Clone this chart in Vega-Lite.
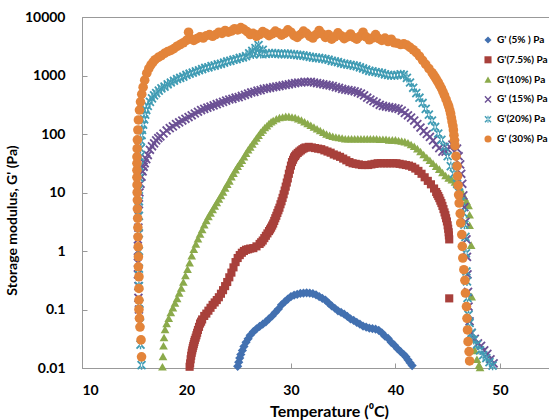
{
  "$schema": "https://vega.github.io/schema/vega-lite/v6.json",
  "width": 467,
  "height": 351,
  "autosize": {"type": "none"},
  "padding": {"left": 82, "top": 17, "right": 0, "bottom": 52},
  "background": "white",
  "config": {
    "font": "Lato",
    "view": {"stroke": "#999999", "strokeWidth": 1},
    "axis": {"grid": false, "domainColor": "#999999", "tickColor": "#999999", "labelColor": "#000000", "titleColor": "#000000", "labelFont": "Lato", "labelFontWeight": "bold", "labelFontSize": 14, "titleFont": "Lato", "titleFontWeight": "bold"}
  },
  "encoding": {
    "x": {"field": "t", "type": "quantitative", "scale": {"domain": [10, 54.7], "nice": false, "zero": false},
      "axis": {"values": [10, 20, 30, 40, 50], "tickSize": -5, "labelPadding": 20, "title": "Temperature (⁰C)", "titleFontSize": 16, "titleX": 247, "titleY": 48, "titleBaseline": "alphabetic"}},
    "y": {"field": "g", "type": "quantitative", "scale": {"type": "log", "domain": [0.01, 10000], "nice": false},
      "axis": {"values": [0.01, 0.1, 1, 10, 100, 1000, 10000], "format": "~g", "tickSize": -5, "labelPadding": 22, "title": "Storage modulus, G' (Pa)", "titleFontSize": 14, "titleX": -66, "titleY": 203, "titleBaseline": "alphabetic"}}
  },
  "layer": [
    {
      "data": {"values": [
        {"t":24.9,"g":0.0107},{"t":25.0,"g":0.0126},{"t":25.1,"g":0.0148},{"t":25.2,"g":0.017},{"t":25.35,"g":0.02},{"t":25.5,"g":0.0234},{"t":25.7,"g":0.0275},{"t":25.9,"g":0.0316},{"t":26.1,"g":0.0363},{"t":26.4,"g":0.0417},{"t":26.7,"g":0.0468},{"t":27.0,"g":0.0513},{"t":27.3,"g":0.0562},{"t":27.6,"g":0.0617},{"t":27.9,"g":0.0692},{"t":28.2,"g":0.0776},{"t":28.5,"g":0.0891},{"t":28.8,"g":0.102},{"t":29.1,"g":0.12},{"t":29.4,"g":0.135},{"t":29.7,"g":0.151},{"t":30.0,"g":0.166},{"t":30.3,"g":0.176},{"t":30.6,"g":0.182},{"t":30.9,"g":0.188},{"t":31.2,"g":0.19},{"t":31.5,"g":0.193},{"t":31.8,"g":0.19},{"t":32.1,"g":0.186},{"t":32.4,"g":0.178},{"t":32.7,"g":0.166},{"t":33.0,"g":0.155},{"t":33.3,"g":0.145},{"t":33.6,"g":0.129},{"t":33.9,"g":0.115},{"t":34.2,"g":0.105},{"t":34.5,"g":0.095},{"t":34.8,"g":0.089},{"t":35.1,"g":0.083},{"t":35.4,"g":0.076},{"t":35.7,"g":0.069},{"t":36.0,"g":0.065},{"t":36.3,"g":0.06},{"t":36.6,"g":0.056},{"t":36.9,"g":0.052},{"t":37.2,"g":0.05},{"t":37.5,"g":0.048},{"t":37.8,"g":0.047},{"t":38.1,"g":0.046},{"t":38.4,"g":0.044},{"t":38.7,"g":0.04},{"t":39.0,"g":0.035},{"t":39.3,"g":0.032},{"t":39.6,"g":0.0275},{"t":39.9,"g":0.0245},{"t":40.2,"g":0.0214},{"t":40.5,"g":0.019},{"t":40.8,"g":0.017},{"t":41.0,"g":0.0155},{"t":41.2,"g":0.0138},{"t":41.4,"g":0.0123},{"t":41.6,"g":0.011}
      ]},
      "mark": {"type": "point", "filled": true, "size": 85, "opacity": 1},
      "encoding": {
        "color": {"datum": "G' (5% ) Pa", "type": "nominal",
          "scale": {"domain": ["G' (5% ) Pa", "G'(7.5%) Pa", "G'(10%) Pa", "G' (15%) Pa", "G'(20%) Pa", "G' (30%) Pa"], "range": ["#4270B0", "#A8403B", "#8BAA4B", "#6B5094", "#409CB4", "#E3843A"]},
          "legend": {"title": null, "orient": "none", "legendX": 401, "legendY": 18, "padding": 0, "symbolSize": 50, "symbolType": "circle", "labelFont": "Lato", "labelFontWeight": "bold", "labelFontSize": 10, "labelColor": "#000000", "labelOffset": 4, "rowPadding": 9.8, "symbolOpacity": 1}},
        "shape": {"datum": "G' (5% ) Pa", "type": "nominal",
          "scale": {"domain": ["G' (5% ) Pa", "G'(7.5%) Pa", "G'(10%) Pa", "G' (15%) Pa", "G'(20%) Pa", "G' (30%) Pa"], "range": ["diamond", "square", "triangle-up", "M-1,-0.72L-0.72,-1L0,-0.28L0.72,-1L1,-0.72L0.28,0L1,0.72L0.72,1L0,0.28L-0.72,1L-1,0.72L-0.28,0Z", "M-1,-0.72L-0.72,-1L0,-0.28L0.72,-1L1,-0.72L0.28,0L1,0.72L0.72,1L0,0.28L-0.72,1L-1,0.72L-0.28,0ZM-0.15,-1L-0.15,1L0.15,1L0.15,-1Z", "circle"]},
          "legend": null}
      }
    },
    {
      "data": {"values": [
        {"t":20.3,"g":0.0105},{"t":20.35,"g":0.012},{"t":20.4,"g":0.0141},{"t":20.45,"g":0.0162},{"t":20.5,"g":0.0182},{"t":20.55,"g":0.02},{"t":20.6,"g":0.0219},{"t":20.65,"g":0.0238},{"t":20.7,"g":0.0257},{"t":20.75,"g":0.0279},{"t":20.8,"g":0.0302},{"t":20.88,"g":0.033},{"t":20.95,"g":0.0363},{"t":21.02,"g":0.04},{"t":21.1,"g":0.0447},{"t":21.2,"g":0.0505},{"t":21.3,"g":0.0575},{"t":21.4,"g":0.062},{"t":21.5,"g":0.0676},{"t":21.7,"g":0.0776},{"t":21.9,"g":0.0851},{"t":22.1,"g":0.0955},{"t":22.3,"g":0.107},{"t":22.5,"g":0.12},{"t":22.7,"g":0.132},{"t":22.9,"g":0.145},{"t":23.1,"g":0.162},{"t":23.3,"g":0.186},{"t":23.5,"g":0.214},{"t":23.7,"g":0.251},{"t":23.9,"g":0.295},{"t":24.1,"g":0.355},{"t":24.3,"g":0.427},{"t":24.5,"g":0.525},{"t":24.7,"g":0.646},{"t":24.9,"g":0.759},{"t":25.1,"g":0.851},{"t":25.3,"g":0.933},{"t":25.5,"g":1.0},{"t":25.7,"g":1.05},{"t":25.9,"g":1.07},{"t":26.1,"g":1.1},{"t":26.4,"g":1.12},{"t":26.7,"g":1.2},{"t":27.0,"g":1.32},{"t":27.15,"g":1.41},{"t":27.3,"g":1.51},{"t":27.45,"g":1.66},{"t":27.6,"g":1.82},{"t":27.75,"g":2.0},{"t":27.9,"g":2.19},{"t":28.0,"g":2.34},{"t":28.1,"g":2.51},{"t":28.2,"g":2.72},{"t":28.3,"g":2.95},{"t":28.4,"g":3.27},{"t":28.5,"g":3.63},{"t":28.6,"g":4.0},{"t":28.7,"g":4.47},{"t":28.8,"g":4.97},{"t":28.9,"g":5.5},{"t":29.0,"g":6.3},{"t":29.1,"g":7.08},{"t":29.2,"g":8.1},{"t":29.3,"g":9.33},{"t":29.4,"g":10.8},{"t":29.5,"g":12.6},{"t":29.6,"g":14.8},{"t":29.7,"g":17.4},{"t":29.8,"g":20.9},{"t":29.9,"g":24.5},{"t":30.0,"g":28.8},{"t":30.1,"g":33.1},{"t":30.2,"g":36.3},{"t":30.3,"g":39.8},{"t":30.4,"g":42.2},{"t":30.5,"g":44.7},{"t":30.65,"g":47.5},{"t":30.8,"g":50.1},{"t":30.95,"g":52.5},{"t":31.1,"g":55},{"t":31.25,"g":57},{"t":31.4,"g":58.9},{"t":31.7,"g":60.3},{"t":32.0,"g":58.9},{"t":32.3,"g":57.5},{"t":32.6,"g":56.2},{"t":32.9,"g":55},{"t":33.2,"g":52.5},{"t":33.5,"g":50.1},{"t":33.8,"g":47.9},{"t":34.1,"g":44.7},{"t":34.4,"g":42.7},{"t":34.7,"g":40.7},{"t":35.0,"g":38},{"t":35.3,"g":35.5},{"t":35.6,"g":33.1},{"t":35.9,"g":31.6},{"t":36.2,"g":30.9},{"t":36.5,"g":30.2},{"t":36.8,"g":29.5},{"t":37.1,"g":29.5},{"t":37.4,"g":29.5},{"t":37.7,"g":30.2},{"t":38.0,"g":30.9},{"t":38.3,"g":31.6},{"t":38.6,"g":31.6},{"t":38.9,"g":31.6},{"t":39.2,"g":31.6},{"t":39.5,"g":31.6},{"t":39.8,"g":31.6},{"t":40.1,"g":31.6},{"t":40.4,"g":30.9},{"t":40.7,"g":30.2},{"t":41.0,"g":29.5},{"t":41.3,"g":28.8},{"t":41.6,"g":27.5},{"t":41.9,"g":25.7},{"t":42.2,"g":23.4},{"t":42.5,"g":20.9},{"t":42.8,"g":18.2},{"t":43.1,"g":15.8},{"t":43.4,"g":13.8},{"t":43.7,"g":11.7},{"t":43.9,"g":10.2},{"t":44.0,"g":9.4},{"t":44.1,"g":8.7},{"t":44.2,"g":8.0},{"t":44.3,"g":7.24},{"t":44.4,"g":6.6},{"t":44.5,"g":5.9},{"t":44.6,"g":5.2},{"t":44.7,"g":4.57},{"t":44.78,"g":4.1},{"t":44.85,"g":3.63},{"t":44.93,"g":3.2},{"t":45.0,"g":2.75},{"t":45.05,"g":2.4},{"t":45.1,"g":2.09},{"t":45.12,"g":1.85},{"t":45.15,"g":1.58},{"t":45.15,"g":0.155}
      ]},
      "mark": {"type": "point", "filled": true, "size": 66, "opacity": 1},
      "encoding": {"color": {"datum": "G'(7.5%) Pa", "type": "nominal"}, "shape": {"datum": "G'(7.5%) Pa", "type": "nominal"}}
    },
    {
      "data": {"values": [
        {"t":17.7,"g":0.0105},{"t":17.75,"g":0.0158},{"t":17.8,"g":0.024},{"t":17.85,"g":0.0331},{"t":17.95,"g":0.0457},{"t":18.1,"g":0.0575},{"t":18.3,"g":0.0708},{"t":18.5,"g":0.0891},{"t":18.7,"g":0.107},{"t":18.9,"g":0.129},{"t":19.1,"g":0.155},{"t":19.3,"g":0.191},{"t":19.5,"g":0.234},{"t":19.7,"g":0.295},{"t":19.9,"g":0.38},{"t":20.1,"g":0.49},{"t":20.3,"g":0.631},{"t":20.5,"g":0.832},{"t":20.7,"g":1.07},{"t":20.9,"g":1.32},{"t":21.1,"g":1.62},{"t":21.3,"g":1.95},{"t":21.5,"g":2.34},{"t":21.7,"g":2.82},{"t":21.9,"g":3.31},{"t":22.1,"g":3.89},{"t":22.3,"g":4.47},{"t":22.5,"g":5.13},{"t":22.7,"g":5.89},{"t":22.9,"g":6.76},{"t":23.1,"g":7.76},{"t":23.3,"g":8.91},{"t":23.5,"g":10.2},{"t":23.7,"g":12.0},{"t":23.9,"g":13.8},{"t":24.1,"g":15.8},{"t":24.3,"g":18.6},{"t":24.5,"g":21.4},{"t":24.7,"g":24.5},{"t":24.9,"g":28.2},{"t":25.1,"g":31.6},{"t":25.3,"g":35.5},{"t":25.5,"g":40.7},{"t":25.7,"g":46.8},{"t":25.9,"g":53.7},{"t":26.1,"g":60.3},{"t":26.3,"g":67.6},{"t":26.5,"g":75.9},{"t":26.7,"g":85.1},{"t":26.9,"g":95.5},{"t":27.1,"g":107},{"t":27.3,"g":117},{"t":27.5,"g":129},{"t":27.7,"g":138},{"t":27.9,"g":151},{"t":28.1,"g":162},{"t":28.3,"g":170},{"t":28.6,"g":182},{"t":28.9,"g":191},{"t":29.2,"g":195},{"t":29.5,"g":200},{"t":29.8,"g":200},{"t":30.1,"g":195},{"t":30.4,"g":191},{"t":30.7,"g":182},{"t":31.0,"g":174},{"t":31.3,"g":162},{"t":31.6,"g":151},{"t":31.9,"g":141},{"t":32.2,"g":132},{"t":32.5,"g":123},{"t":32.8,"g":115},{"t":33.1,"g":107},{"t":33.4,"g":100},{"t":33.7,"g":95.5},{"t":34.0,"g":91.2},{"t":34.3,"g":89.1},{"t":34.6,"g":87.1},{"t":34.9,"g":85.1},{"t":35.2,"g":83.2},{"t":35.5,"g":83.2},{"t":35.8,"g":83.2},{"t":36.1,"g":83.2},{"t":36.4,"g":83.2},{"t":36.7,"g":83.2},{"t":37.0,"g":83.2},{"t":37.3,"g":83.2},{"t":37.6,"g":83.2},{"t":37.9,"g":83.2},{"t":38.2,"g":83.2},{"t":38.5,"g":81.3},{"t":38.8,"g":81.3},{"t":39.1,"g":81.3},{"t":39.4,"g":79.4},{"t":39.7,"g":79.4},{"t":40.0,"g":79.4},{"t":40.3,"g":77.6},{"t":40.6,"g":75.9},{"t":40.9,"g":74.1},{"t":41.2,"g":70.8},{"t":41.5,"g":66.1},{"t":41.8,"g":61.7},{"t":42.1,"g":56.2},{"t":42.4,"g":50.1},{"t":42.7,"g":44.7},{"t":43.0,"g":39.8},{"t":43.3,"g":35.5},{"t":43.6,"g":31.6},{"t":43.9,"g":28.2},{"t":44.2,"g":25.1},{"t":44.5,"g":21.9},{"t":44.8,"g":19.5},{"t":45.1,"g":17.8},{"t":45.4,"g":16.6},{"t":45.7,"g":15.1},{"t":46.0,"g":13.5},{"t":46.2,"g":11.7},{"t":46.4,"g":9.77},{"t":46.6,"g":8.32},{"t":46.8,"g":7.08},{"t":47.0,"g":6.03},{"t":47.1,"g":4.17},{"t":47.1,"g":2.75},{"t":47.25,"g":1.26},{"t":47.3,"g":0.166},{"t":47.6,"g":0.02},{"t":47.8,"g":0.0141},{"t":48.0,"g":0.0112},{"t":48.1,"g":0.0102}
      ]},
      "mark": {"type": "point", "filled": true, "size": 76, "opacity": 1},
      "encoding": {"color": {"datum": "G'(10%) Pa", "type": "nominal"}, "shape": {"datum": "G'(10%) Pa", "type": "nominal"}}
    },
    {
      "data": {"values": [
        {"t":15.45,"g":0.1},{"t":15.4,"g":0.158},{"t":15.4,"g":0.251},{"t":15.35,"g":0.398},{"t":15.35,"g":0.631},{"t":15.35,"g":1.0},{"t":15.35,"g":1.58},{"t":15.4,"g":2.51},{"t":15.4,"g":3.98},{"t":15.45,"g":6.31},{"t":15.5,"g":10},{"t":15.6,"g":14.1},{"t":15.7,"g":18.6},{"t":15.8,"g":22.9},{"t":15.9,"g":27.5},{"t":16.0,"g":31.6},{"t":16.15,"g":37.2},{"t":16.3,"g":43.7},{"t":16.5,"g":53.7},{"t":16.7,"g":61.7},{"t":16.9,"g":69.2},{"t":17.1,"g":77.6},{"t":17.3,"g":85.1},{"t":17.5,"g":91.2},{"t":17.8,"g":102},{"t":18.1,"g":115},{"t":18.4,"g":126},{"t":18.7,"g":135},{"t":19.0,"g":148},{"t":19.3,"g":158},{"t":19.6,"g":170},{"t":19.9,"g":182},{"t":20.2,"g":195},{"t":20.5,"g":209},{"t":20.8,"g":224},{"t":21.1,"g":240},{"t":21.4,"g":257},{"t":21.7,"g":269},{"t":22.0,"g":282},{"t":22.3,"g":295},{"t":22.6,"g":309},{"t":22.9,"g":324},{"t":23.2,"g":339},{"t":23.5,"g":355},{"t":23.8,"g":372},{"t":24.1,"g":389},{"t":24.4,"g":398},{"t":24.7,"g":417},{"t":25.0,"g":427},{"t":25.3,"g":447},{"t":25.6,"g":468},{"t":25.9,"g":490},{"t":26.2,"g":513},{"t":26.5,"g":525},{"t":26.8,"g":550},{"t":27.1,"g":562},{"t":27.4,"g":589},{"t":27.7,"g":603},{"t":28.0,"g":617},{"t":28.3,"g":631},{"t":28.6,"g":646},{"t":28.9,"g":661},{"t":29.2,"g":676},{"t":29.5,"g":692},{"t":29.8,"g":708},{"t":30.1,"g":724},{"t":30.4,"g":741},{"t":30.7,"g":759},{"t":31.0,"g":759},{"t":31.3,"g":776},{"t":31.6,"g":776},{"t":31.9,"g":776},{"t":32.2,"g":759},{"t":32.5,"g":741},{"t":32.8,"g":724},{"t":33.1,"g":708},{"t":33.4,"g":692},{"t":33.7,"g":676},{"t":34.0,"g":661},{"t":34.3,"g":631},{"t":34.6,"g":617},{"t":34.9,"g":589},{"t":35.2,"g":575},{"t":35.5,"g":562},{"t":35.8,"g":550},{"t":36.1,"g":537},{"t":36.4,"g":513},{"t":36.7,"g":490},{"t":37.0,"g":457},{"t":37.3,"g":417},{"t":37.6,"g":389},{"t":37.9,"g":363},{"t":38.2,"g":339},{"t":38.5,"g":316},{"t":38.8,"g":302},{"t":39.1,"g":295},{"t":39.4,"g":288},{"t":39.7,"g":282},{"t":40.0,"g":275},{"t":40.3,"g":269},{"t":40.6,"g":251},{"t":40.9,"g":229},{"t":41.2,"g":209},{"t":41.5,"g":191},{"t":41.8,"g":170},{"t":42.1,"g":148},{"t":42.4,"g":129},{"t":42.7,"g":112},{"t":43.0,"g":100},{"t":43.3,"g":89.1},{"t":43.6,"g":77.6},{"t":43.9,"g":66.1},{"t":44.2,"g":57.5},{"t":44.5,"g":50.1},{"t":44.8,"g":50.1},{"t":45.0,"g":55},{"t":45.2,"g":60.3},{"t":45.45,"g":66.1},{"t":45.7,"g":69.2},{"t":45.9,"g":56.2},{"t":46.05,"g":41.7},{"t":46.2,"g":30.2},{"t":46.3,"g":20.9},{"t":46.4,"g":14.1},{"t":46.5,"g":8.91},{"t":46.6,"g":5.62},{"t":46.7,"g":3.16},{"t":46.8,"g":1.58},{"t":46.85,"g":0.794},{"t":46.9,"g":0.398},{"t":46.95,"g":0.2},{"t":47.0,"g":0.112},{"t":47.1,"g":0.063},{"t":47.3,"g":0.0398},{"t":47.6,"g":0.0316},{"t":47.9,"g":0.0263},{"t":48.2,"g":0.024},{"t":48.5,"g":0.02},{"t":48.8,"g":0.0174},{"t":49.1,"g":0.0141},{"t":49.4,"g":0.012}
      ]},
      "mark": {"type": "point", "filled": true, "size": 85, "opacity": 1},
      "encoding": {"color": {"datum": "G' (15%) Pa", "type": "nominal"}, "shape": {"datum": "G' (15%) Pa", "type": "nominal"}}
    },
    {
      "data": {"values": [
        {"t":15.7,"g":0.0112},{"t":15.6,"g":0.0251},{"t":15.55,"g":0.0589},{"t":15.5,"g":0.126},{"t":15.45,"g":0.251},{"t":15.45,"g":0.501},{"t":15.45,"g":1.0},{"t":15.45,"g":2.0},{"t":15.45,"g":3.98},{"t":15.45,"g":7.08},{"t":15.45,"g":11.2},{"t":15.5,"g":17.8},{"t":15.5,"g":28.2},{"t":15.55,"g":40.7},{"t":15.6,"g":56.2},{"t":15.65,"g":75.9},{"t":15.7,"g":95.5},{"t":15.75,"g":117},{"t":15.85,"g":145},{"t":15.95,"g":178},{"t":16.05,"g":214},{"t":16.15,"g":257},{"t":16.3,"g":302},{"t":16.5,"g":355},{"t":16.7,"g":407},{"t":16.9,"g":457},{"t":17.1,"g":501},{"t":17.35,"g":550},{"t":17.6,"g":603},{"t":17.9,"g":646},{"t":18.2,"g":708},{"t":18.5,"g":759},{"t":18.8,"g":813},{"t":19.1,"g":871},{"t":19.4,"g":912},{"t":19.7,"g":955},{"t":20.0,"g":1023},{"t":20.3,"g":1072},{"t":20.6,"g":1122},{"t":20.9,"g":1175},{"t":21.2,"g":1230},{"t":21.5,"g":1288},{"t":21.8,"g":1349},{"t":22.1,"g":1380},{"t":22.4,"g":1445},{"t":22.7,"g":1479},{"t":23.0,"g":1549},{"t":23.3,"g":1585},{"t":23.6,"g":1660},{"t":23.9,"g":1738},{"t":24.2,"g":1778},{"t":24.5,"g":1862},{"t":24.8,"g":1905},{"t":25.1,"g":1995},{"t":25.4,"g":2042},{"t":25.7,"g":2138},{"t":26.0,"g":2399},{"t":26.3,"g":2630},{"t":26.4,"g":2291},{"t":26.6,"g":2951},{"t":26.8,"g":2512},{"t":26.9,"g":3311},{"t":27.1,"g":2344},{"t":27.3,"g":2754},{"t":27.6,"g":2344},{"t":27.9,"g":2399},{"t":28.2,"g":2399},{"t":28.5,"g":2399},{"t":28.8,"g":2344},{"t":29.1,"g":2344},{"t":29.4,"g":2344},{"t":29.7,"g":2344},{"t":30.0,"g":2291},{"t":30.3,"g":2291},{"t":30.6,"g":2239},{"t":30.9,"g":2239},{"t":31.2,"g":2188},{"t":31.5,"g":2138},{"t":31.8,"g":2089},{"t":32.1,"g":2042},{"t":32.4,"g":1995},{"t":32.7,"g":1995},{"t":33.0,"g":1950},{"t":33.3,"g":1905},{"t":33.6,"g":1862},{"t":33.9,"g":1778},{"t":34.2,"g":1738},{"t":34.5,"g":1698},{"t":34.8,"g":1622},{"t":35.1,"g":1585},{"t":35.4,"g":1549},{"t":35.7,"g":1514},{"t":36.0,"g":1479},{"t":36.3,"g":1445},{"t":36.6,"g":1380},{"t":36.9,"g":1318},{"t":37.2,"g":1259},{"t":37.5,"g":1202},{"t":37.8,"g":1175},{"t":38.1,"g":1148},{"t":38.4,"g":1122},{"t":38.7,"g":1096},{"t":39.0,"g":1047},{"t":39.3,"g":1023},{"t":39.6,"g":1000},{"t":39.9,"g":1000},{"t":40.2,"g":1023},{"t":40.5,"g":1047},{"t":40.8,"g":1023},{"t":41.1,"g":912},{"t":41.4,"g":759},{"t":41.7,"g":617},{"t":42.0,"g":501},{"t":42.3,"g":417},{"t":42.6,"g":339},{"t":42.9,"g":269},{"t":43.2,"g":214},{"t":43.5,"g":170},{"t":43.8,"g":132},{"t":44.1,"g":102},{"t":44.4,"g":79.4},{"t":44.7,"g":60.3},{"t":45.0,"g":41.7},{"t":45.3,"g":28.2},{"t":45.6,"g":20.9},{"t":45.9,"g":14.1},{"t":46.1,"g":10},{"t":46.3,"g":7.08},{"t":46.5,"g":4.47},{"t":46.6,"g":2.82},{"t":46.7,"g":1.74},{"t":46.75,"g":0.912},{"t":46.8,"g":0.447},{"t":46.85,"g":0.302},{"t":46.9,"g":0.158},{"t":47.0,"g":0.0813},{"t":47.1,"g":0.0589},{"t":47.3,"g":0.0398},{"t":47.5,"g":0.0302},{"t":47.8,"g":0.0251},{"t":48.1,"g":0.02},{"t":48.4,"g":0.0166},{"t":48.7,"g":0.0148},{"t":49.0,"g":0.0126},{"t":49.3,"g":0.011}
      ]},
      "mark": {"type": "point", "filled": true, "size": 85, "opacity": 1},
      "encoding": {"color": {"datum": "G'(20%) Pa", "type": "nominal"}, "shape": {"datum": "G'(20%) Pa", "type": "nominal"}}
    },
    {
      "data": {"values": [
        {"t":15.7,"g":0.0155},{"t":15.65,"g":0.0302},{"t":15.55,"g":0.0501},{"t":15.5,"g":0.0708},{"t":15.45,"g":0.1},{"t":15.45,"g":0.145},{"t":15.45,"g":0.229},{"t":15.45,"g":0.363},{"t":15.4,"g":0.537},{"t":15.4,"g":0.794},{"t":15.38,"g":1.175},{"t":15.36,"g":1.74},{"t":15.35,"g":2.51},{"t":15.33,"g":3.63},{"t":15.3,"g":5.25},{"t":15.3,"g":7.41},{"t":15.28,"g":10},{"t":15.27,"g":13.5},{"t":15.26,"g":18.2},{"t":15.26,"g":24},{"t":15.26,"g":31.6},{"t":15.26,"g":40.7},{"t":15.28,"g":56.2},{"t":15.3,"g":79.4},{"t":15.35,"g":117},{"t":15.4,"g":174},{"t":15.5,"g":257},{"t":15.6,"g":355},{"t":15.72,"g":479},{"t":15.85,"g":631},{"t":16.0,"g":832},{"t":16.2,"g":1096},{"t":16.4,"g":1318},{"t":16.6,"g":1514},{"t":16.8,"g":1698},{"t":17.0,"g":1862},{"t":17.3,"g":2042},{"t":17.6,"g":2188},{"t":17.9,"g":2399},{"t":18.2,"g":2570},{"t":18.5,"g":2692},{"t":18.8,"g":2884},{"t":19.1,"g":3162},{"t":19.4,"g":3388},{"t":19.7,"g":3631},{"t":20.0,"g":3981},{"t":20.2,"g":5495},{"t":20.4,"g":4266},{"t":20.7,"g":3981},{"t":21.0,"g":4266},{"t":21.3,"g":4571},{"t":21.6,"g":4365},{"t":21.9,"g":4786},{"t":22.2,"g":5012},{"t":22.5,"g":4677},{"t":22.8,"g":5012},{"t":23.1,"g":5495},{"t":23.4,"g":5248},{"t":23.7,"g":5888},{"t":24.0,"g":5495},{"t":24.3,"g":5754},{"t":24.6,"g":6310},{"t":24.9,"g":6026},{"t":25.2,"g":6607},{"t":25.5,"g":6166},{"t":25.8,"g":5623},{"t":26.1,"g":5012},{"t":26.4,"g":5248},{"t":26.7,"g":4677},{"t":27.0,"g":5012},{"t":27.3,"g":5623},{"t":27.6,"g":5248},{"t":27.9,"g":4786},{"t":28.2,"g":5129},{"t":28.5,"g":5754},{"t":28.8,"g":5370},{"t":29.1,"g":4898},{"t":29.4,"g":5248},{"t":29.7,"g":6026},{"t":30.0,"g":5495},{"t":30.3,"g":4786},{"t":30.6,"g":4467},{"t":30.9,"g":5012},{"t":31.2,"g":5754},{"t":31.5,"g":5248},{"t":31.8,"g":4677},{"t":32.1,"g":4365},{"t":32.4,"g":5012},{"t":32.7,"g":5888},{"t":33.0,"g":5129},{"t":33.3,"g":4467},{"t":33.6,"g":5012},{"t":33.9,"g":4169},{"t":34.2,"g":4571},{"t":34.5,"g":5370},{"t":34.8,"g":4786},{"t":35.1,"g":4266},{"t":35.4,"g":4571},{"t":35.7,"g":5129},{"t":36.0,"g":4467},{"t":36.3,"g":4169},{"t":36.6,"g":4677},{"t":36.9,"g":5495},{"t":37.2,"g":4571},{"t":37.5,"g":4074},{"t":37.8,"g":4365},{"t":38.1,"g":5012},{"t":38.4,"g":4266},{"t":38.7,"g":3981},{"t":39.0,"g":4365},{"t":39.3,"g":3802},{"t":39.6,"g":4169},{"t":39.9,"g":3631},{"t":40.2,"g":3548},{"t":40.5,"g":3388},{"t":40.8,"g":3467},{"t":41.1,"g":3311},{"t":41.4,"g":3020},{"t":41.7,"g":2754},{"t":42.0,"g":2455},{"t":42.3,"g":2138},{"t":42.6,"g":1820},{"t":42.9,"g":1549},{"t":43.2,"g":1318},{"t":43.5,"g":1122},{"t":43.65,"g":1023},{"t":43.8,"g":933},{"t":43.95,"g":840},{"t":44.1,"g":759},{"t":44.25,"g":676},{"t":44.4,"g":603},{"t":44.55,"g":525},{"t":44.7,"g":457},{"t":44.85,"g":390},{"t":45.0,"g":331},{"t":45.1,"g":295},{"t":45.2,"g":257},{"t":45.28,"g":224},{"t":45.35,"g":191},{"t":45.42,"g":162},{"t":45.5,"g":138},{"t":45.55,"g":117},{"t":45.6,"g":95.5},{"t":45.65,"g":78},{"t":45.7,"g":63.1},{"t":45.8,"g":41.7},{"t":45.9,"g":28.2},{"t":45.95,"g":19.1},{"t":46.0,"g":13.2},{"t":46.05,"g":9.12},{"t":46.1,"g":6.61},{"t":46.2,"g":4.37},{"t":46.25,"g":3.02},{"t":46.35,"g":1.91},{"t":46.4,"g":1.2},{"t":46.45,"g":0.759},{"t":46.55,"g":0.479},{"t":46.65,"g":0.316},{"t":46.7,"g":0.191},{"t":46.8,"g":0.112},{"t":46.85,"g":0.0708},{"t":46.9,"g":0.0447},{"t":46.95,"g":0.0282},{"t":47.05,"g":0.0191},{"t":47.1,"g":0.0132}
      ]},
      "mark": {"type": "point", "filled": true, "size": 92, "opacity": 1},
      "encoding": {"color": {"datum": "G' (30%) Pa", "type": "nominal"}, "shape": {"datum": "G' (30%) Pa", "type": "nominal"}}
    }
  ]
}
